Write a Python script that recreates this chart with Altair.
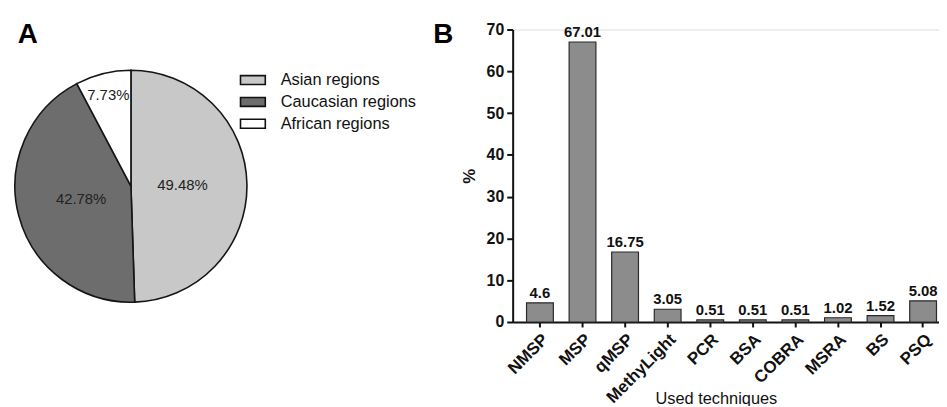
import altair as alt
import pandas as pd

FONT = "Liberation Sans"

# ---- Panel A data ----
regions = ["Asian regions", "Caucasian regions", "African regions"]
region_pct = [49.48, 42.78, 7.73]
region_colors = ["#c8c8c8", "#6d6d6d", "#ffffff"]

# ---- Panel B data ----
techniques = ["NMSP", "MSP", "qMSP", "MethyLight", "PCR", "BSA", "COBRA", "MSRA", "BS", "PSQ"]
tech_pct = [4.6, 67.01, 16.75, 3.05, 0.51, 0.51, 0.51, 1.02, 1.52, 5.08]
y_ticks = [0, 10, 20, 30, 40, 50, 60, 70]

panel_letters = ["A", "B"]

pie_df = pd.DataFrame({
    "region": regions,
    "pct": region_pct,
    "idx": list(range(len(regions))),
    "label": [f"{v}%" for v in region_pct],
})
bar_df = pd.DataFrame({
    "technique": techniques,
    "pct": tech_pct,
    "label": [str(v) for v in tech_pct],
})

# pie centre relative to the bar plot origin
CX, CY = -385, 158

arcs = alt.Chart(pie_df).mark_arc(outerRadius=117, stroke="#151515", strokeWidth=1.6).encode(
    theta=alt.Theta("pct:Q", stack=True),
    order=alt.Order("idx:Q"),
    x=alt.value(CX),
    y=alt.value(CY),
    color=alt.Color(
        "region:N",
        scale=alt.Scale(domain=regions, range=region_colors),
        legend=alt.Legend(
            orient="none", legendX=-273, legendY=40, title=None,
            symbolType="M-1.25,-0.45H1.25V0.45H-1.25Z", symbolSize=400,
            symbolStrokeColor="#111", symbolStrokeWidth=1.6,
            labelFont=FONT, labelFontSize=16.5, labelColor="#111",
            labelOffset=17, rowPadding=2, padding=0,
        ),
    ),
)

# label angle = middle of each slice (radians), label distance from centre
pie_text = alt.Chart(pie_df).transform_window(
    cum="sum(pct)", sort=[alt.SortField("idx")]
).transform_joinaggregate(
    total="sum(pct)"
).transform_calculate(
    mid="(datum.cum - datum.pct / 2) / datum.total * 2 * PI",
    lr="datum.pct < 10 ? 95 : 52",
).mark_text(font=FONT, fontSize=15, color="#222").encode(
    theta=alt.Theta("mid:Q", scale=None),
    radius=alt.Radius("lr:Q", scale=None),
    x=alt.value(CX),
    y=alt.value(CY),
    text="label:N",
)

x_enc = alt.X(
    "technique:N", sort=techniques,
    scale=alt.Scale(paddingInner=0.371, paddingOuter=0.1925, align=0.847),
    axis=alt.Axis(
        title="Used techniques", labelAngle=-45, labelFont=FONT, labelFontSize=17,
        labelFontWeight="bold", labelColor="#111", labelPadding=4,
        domainColor="#111", domainWidth=2, tickColor="#111", tickWidth=2, tickSize=5,
        titleFont=FONT, titleFontSize=16.5, titleFontWeight="normal", titleColor="#111",
        titleX=205, titleY=82, titleBaseline="alphabetic", titleAlign="center", titleAnchor="start",
    ),
)
y_enc = alt.Y(
    "pct:Q",
    scale=alt.Scale(domain=[0, 70], nice=False),
    axis=alt.Axis(
        values=y_ticks, title="%", grid=False, labelFont=FONT, labelFontSize=16,
        labelFontWeight="bold", labelColor="#111", labelPadding=3,
        domainColor="#111", domainWidth=2, tickColor="#111", tickWidth=2, tickSize=6,
        titleFont=FONT, titleFontSize=17, titleFontWeight="bold", titleColor="#111",
        titlePadding=8,
    ),
)

bars = alt.Chart(bar_df).mark_bar(color="#8c8c8c", stroke="#2a2a2a", strokeWidth=1.2).encode(
    x=x_enc, y=y_enc
)
bar_text = alt.Chart(bar_df).mark_text(
    font=FONT, fontSize=15, fontWeight="bold", color="#111", baseline="bottom", dy=-2
).encode(
    x=alt.X("technique:N", sort=techniques),
    y=alt.Y("pct:Q"),
    text="label:N",
)

letters_df = pd.DataFrame({"t": panel_letters})
letter_a = alt.Chart(letters_df).transform_filter("datum.t == 'A'").mark_text(
    font=FONT, fontSize=28, fontWeight="bold", color="#000", baseline="alphabetic", align="center"
).encode(x=alt.value(-489), y=alt.value(14), text="t:N")
letter_b = alt.Chart(letters_df).transform_filter("datum.t == 'B'").mark_text(
    font=FONT, fontSize=28, fontWeight="bold", color="#000", baseline="alphabetic", align="center"
).encode(x=alt.value(-70), y=alt.value(14), text="t:N")

chart = alt.layer(arcs, pie_text, bars, bar_text, letter_a, letter_b).properties(
    width=430, height=295,
    autosize=alt.AutoSizeParams(type="none"),
    padding={"left": 509, "top": 20, "right": 0, "bottom": 83},
).configure_view(stroke=None).configure(background="white")

chart.save("out.html", embed_options={"renderer": "svg", "actions": False})
